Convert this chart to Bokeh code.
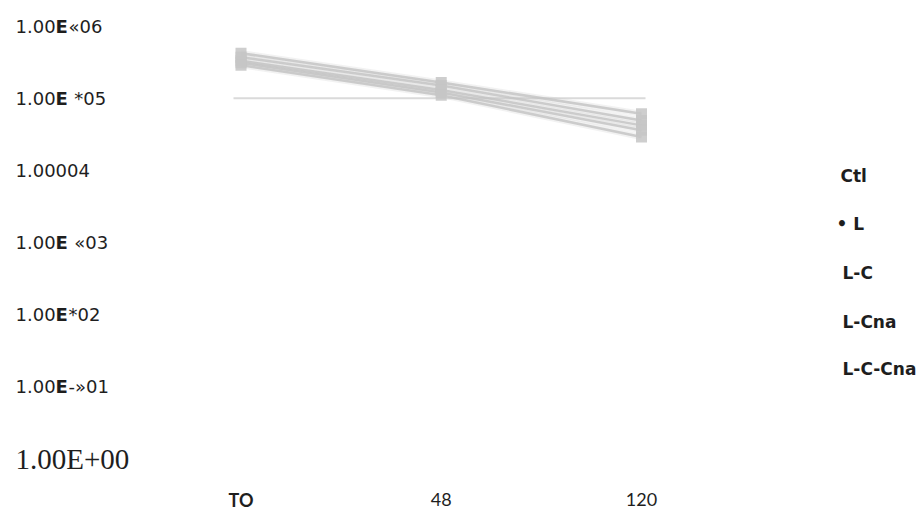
from bokeh.plotting import figure
from bokeh.models import Range1d
from bokeh.core.properties import value
from bokeh.embed import file_html
from bokeh.resources import INLINE

# Sampling times and their printed tick labels
times = [0, 1, 2]
time_labels = ["TO", "48", "120"]
time_label_bold = [True, False, False]

# Counts per series over time (log scale)
series_names = ["Ctl", "L", "L-C", "L-Cna", "L-C-Cna"]
ctl = [4.2e5, 1.65e5, 6.1e4]
l_only = [3.7e5, 1.5e5, 4.9e4]
l_c = [3.3e5, 1.3e5, 4.2e4]
l_cna = [3.1e5, 1.2e5, 3.6e4]
l_c_cna = [2.85e5, 1.1e5, 2.9e4]
series_values = [ctl, l_only, l_c, l_cna, l_c_cna]

# Y tick values and their printed labels (prefix, bold part, suffix)
y_ticks = [1e6, 1e5, 1e4, 1e3, 1e2, 1e1]
y_tick_parts = [
    ("1.00", "E", "«06"),
    ("1.00", "E", "\u00a0*05"),
    ("1.00004", "", ""),
    ("1.00", "E", "\u00a0«03"),
    ("1.00", "E", "*02"),
    ("1.00", "E", "-»01"),
]
y_bottom_tick = 1e0
y_bottom_label = "1.00E+00"

W, H = 922, 512
DECADE = 72.17          # pixels per decade
TOP_PX = 25.5           # pixel row of 1e6
X0_PX, DX_PX = 240.5, 200.25


def py_to_y(py):
    return 10 ** (6 - (py - TOP_PX) / DECADE)


def px_to_x(px):
    return (px - X0_PX) / DX_PX


p = figure(width=W, height=H, y_axis_type="log",
           x_range=Range1d(px_to_x(0), px_to_x(W)),
           y_range=Range1d(py_to_y(H), py_to_y(0)),
           output_backend="svg", toolbar_location=None, min_border=0)
p.axis.visible = False
p.grid.visible = False
p.outline_line_color = None
p.background_fill_color = "white"

# single horizontal reference line at 1e5
p.segment(x0=[px_to_x(233)], x1=[px_to_x(645)], y0=[1e5], y1=[1e5],
          line_color="#dadada", line_width=2)

grey = "#c2c2c2"
for vals in series_values:
    p.line(times, vals, line_color=grey, line_width=6, line_alpha=0.22)
    p.line(times, vals, line_color=grey, line_width=2.5, line_alpha=0.8)
for vals in series_values:
    p.scatter(times, vals, marker="square", size=11, fill_color="#c6c6c6",
              line_color=None, fill_alpha=0.85)

txt = "#1e1e1e"
sans = value("DejaVu Sans")
lab_x = px_to_x(15)

# y tick labels, built from pieces so the "E" can be bold
for yv, (pre, bold, suf) in zip(y_ticks, y_tick_parts):
    p.text(x=[lab_x], y=[yv], text=[pre], text_font=sans, text_font_size="18px",
           text_color=txt, text_baseline="middle", text_align="left")
    if bold:
        p.text(x=[lab_x], y=[yv], text=[bold], x_offset=40, text_font=sans,
               text_font_size="18px", text_font_style="bold", text_color=txt,
               text_baseline="middle", text_align="left")
        p.text(x=[lab_x], y=[yv], text=[suf], x_offset=53, text_font=sans,
               text_font_size="18px", text_color=txt,
               text_baseline="middle", text_align="left")

p.text(x=[lab_x], y=[y_bottom_tick], text=[y_bottom_label],
       text_font=value("Liberation Serif"), text_font_size="29px",
       text_color=txt, text_baseline="middle", text_align="left")

# x tick labels
xl_y = py_to_y(499)
for t, lab, b in zip(times, time_labels, time_label_bold):
    p.text(x=[t], y=[xl_y], text=[lab], text_font=value("Lato"),
           text_font_size="18px", text_font_style="bold" if b else "normal",
           text_color=txt, text_baseline="middle", text_align="center")

# legend entries
legend_rows_px = [175, 223, 272, 321, 368]
legend_text = ["Ctl", "• L", "L-C", "L-Cna", "L-C-Cna"]
legend_x_px = [840, 836, 842, 842, 842]
for name, ry, rx in zip(legend_text, legend_rows_px, legend_x_px):
    p.text(x=[px_to_x(rx)], y=[py_to_y(ry)], text=[name], text_font=sans,
           text_font_size="17px", text_font_style="bold", text_color=txt,
           text_baseline="middle", text_align="left")

open("out.html", "w").write(file_html(p, INLINE))
